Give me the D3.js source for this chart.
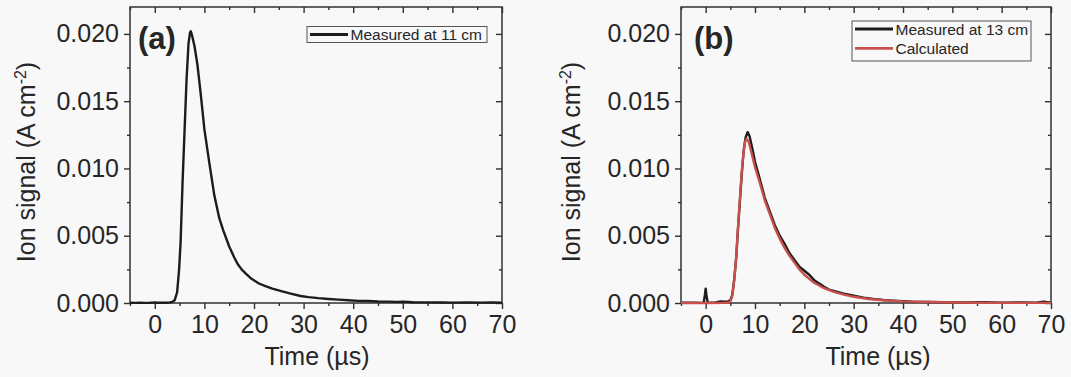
<!DOCTYPE html>
<html>
<head>
<meta charset="utf-8">
<script src="https://cdn.jsdelivr.net/npm/d3@7"></script>
<style>
  html, body { margin: 0; padding: 0; background: #f8f8f8; }
  svg { display: block; }
  text { font-family: "Liberation Sans", Arial, sans-serif; fill: #262626; }
</style>
</head>
<body>
<svg id="chart" width="1071" height="377"></svg>
<script>
// Ion signal traces (time in µs, signal in A cm^-2)
const timeA  = [-5, -4, -3, -2, -1, -0.5, 0, 0.5, 1, 2, 3, 3.5, 4, 4.5, 4.9, 5.2, 5.6, 6.0, 6.4, 6.8, 7.1, 7.25, 7.5, 8.0, 8.6, 9.3, 10, 11, 12, 13, 13.8, 15, 16, 16.7, 17.5, 18.3, 19.5, 21, 22.3, 23.7, 25.5, 27.4, 29.4, 31, 33, 35, 37, 39, 41, 43, 45, 47, 49, 50, 52, 55, 58, 60, 63, 66, 68, 70];
const signalA = [0.00002, 0.00001, 0.00002, 0.00001, 0.00002, 0.00003, 0.00005, 0.00002, 0.00003, 0.00002, 0.00004, 0.00008, 0.0002, 0.0008, 0.0025, 0.0045, 0.0090, 0.0128, 0.0166, 0.0193, 0.0201, 0.0202, 0.0199, 0.0191, 0.0177, 0.0154, 0.0129, 0.0104, 0.0080, 0.0063, 0.0054, 0.0042, 0.0034, 0.0029, 0.0025, 0.0022, 0.0018, 0.00145, 0.00125, 0.00107, 0.00088, 0.00070, 0.00052, 0.00044, 0.00036, 0.00030, 0.00025, 0.00020, 0.00016, 0.00015, 0.00011, 0.00010, 0.00008, 0.00010, 0.00006, 0.00005, 0.00004, 0.00003, 0.00004, 0.00003, 0.00004, 0.00003];

const timeB = [-5, -4, -3, -2, -1, -0.4, -0.15, 0, 0.15, 0.4, 1, 2, 3, 4, 4.5, 5.0, 5.4, 5.8, 6.2, 6.5, 6.85, 7.3, 7.7, 8.1, 8.5, 8.9, 9.5, 10, 10.9, 12, 12.9, 14, 15, 16, 17, 18, 19, 20, 21, 22, 23, 24, 25, 26.5, 28, 30, 32, 34, 36, 38, 40, 42, 45, 48, 50, 53, 56, 60, 64, 67, 68.5, 70];
const measuredB = [0.00002, 0.00003, 0.00003, 0.00002, 0.00001, 0.00003, 0.0006, 0.00107, 0.0006, 0.00004, 0.00002, 0.00005, 0.00012, 0.0001, 0.00012, 0.0002, 0.0006, 0.0018, 0.0034, 0.0052, 0.0071, 0.0095, 0.0113, 0.0123, 0.0127, 0.0124, 0.0114, 0.0105, 0.0093, 0.0078, 0.0069, 0.0058, 0.0050, 0.0044, 0.0037, 0.0032, 0.0027, 0.0024, 0.0021, 0.0017, 0.00145, 0.0012, 0.0010, 0.00085, 0.0007, 0.00055, 0.0004, 0.0003, 0.00022, 0.00018, 0.00014, 0.0001, 0.00008, 0.00006, 0.00005, 0.00004, 0.00006, 0.00003, 0.00004, 0.00003, 0.0001, 0.00003];

const timeCalc = [-5, 0, 4, 4.5, 5.0, 5.4, 5.8, 6.2, 6.5, 6.85, 7.3, 7.7, 8.0, 8.3, 8.7, 9.2, 10, 11, 12, 13, 14, 15, 16, 17, 18, 19, 20, 22, 24, 26, 28, 30, 33, 36, 40, 45, 50, 55, 60, 70];
const calculatedB = [0, 0, 0.00001, 0.00002, 0.0001, 0.0005, 0.0017, 0.0035, 0.0053, 0.0073, 0.0097, 0.0113, 0.0120, 0.0122, 0.0120, 0.0113, 0.0101, 0.0089, 0.0076, 0.0066, 0.0056, 0.0048, 0.0041, 0.0035, 0.0030, 0.0025, 0.0021, 0.0015, 0.0011, 0.00082, 0.00062, 0.00046, 0.0003, 0.0002, 0.00012, 0.00007, 0.00004, 0.00002, 0.00001, 0.00001];

const xMajorTicks = [0, 10, 20, 30, 40, 50, 60, 70];
const xMinorTicks = [-5, 5, 15, 25, 35, 45, 55, 65];
const yMajorTicks = [0, 0.005, 0.010, 0.015, 0.020];
const yMinorTicks = [0.0025, 0.0075, 0.0125, 0.0175];

const svg = d3.select("#chart");
const plotTop = 7, plotBottom = 303;
const fmtY = d3.format(".3f");
const FONT = "'Liberation Sans', Arial, sans-serif";

function panel(cfg) {
  const x = d3.scaleLinear().domain([-5, 70]).range([cfg.left, cfg.right]);
  const y = d3.scaleLinear().domain([0, 0.022]).range([plotBottom, plotTop]);
  const g = svg.append("g");

  // outward ticks on bottom/left, inward on top/right
  const axes = [
    [d3.axisBottom(x).tickValues(xMajorTicks).tickSize(6).tickPadding(6).tickFormat(d3.format("d")), `translate(0,${plotBottom})`, true],
    [d3.axisBottom(x).tickValues(xMinorTicks).tickSize(3).tickFormat(""), `translate(0,${plotBottom})`, false],
    [d3.axisLeft(y).tickValues(yMajorTicks).tickSize(6).tickPadding(5).tickFormat(fmtY), `translate(${cfg.left},0)`, true],
    [d3.axisLeft(y).tickValues(yMinorTicks).tickSize(3).tickFormat(""), `translate(${cfg.left},0)`, false],
    [d3.axisTop(x).tickValues(xMajorTicks).tickSize(-6).tickFormat(""), `translate(0,${plotTop})`, false],
    [d3.axisTop(x).tickValues(xMinorTicks).tickSize(-3).tickFormat(""), `translate(0,${plotTop})`, false],
    [d3.axisRight(y).tickValues(yMajorTicks).tickSize(-6).tickFormat(""), `translate(${cfg.right},0)`, false],
    [d3.axisRight(y).tickValues(yMinorTicks).tickSize(-3).tickFormat(""), `translate(${cfg.right},0)`, false]
  ];
  axes.forEach(([ax, tr, labels]) => {
    const a = g.append("g").attr("transform", tr).call(ax);
    a.select(".domain").remove();
    a.selectAll("line").attr("stroke", "#303030").attr("stroke-width", 1.4);
    if (labels) a.selectAll("text").style("font-size", "25px").attr("fill", "#262626")
      .style("font-family", FONT);
  });

  // frame
  g.append("rect")
    .attr("x", cfg.left).attr("y", plotTop)
    .attr("width", cfg.right - cfg.left).attr("height", plotBottom - plotTop)
    .attr("fill", "none").attr("stroke", "#303030").attr("stroke-width", 1.5);

  // traces
  const traces = g.append("g");
  cfg.series.forEach(s => {
    const pts = s.t.map((t, i) => [t, s.v[i]]);
    traces.append("path")
      .attr("d", d3.line().x(d => x(d[0])).y(d => y(d[1]))(pts))
      .attr("fill", "none").attr("stroke", s.color)
      .attr("stroke-width", 2.4).attr("stroke-linejoin", "round");
  });

  // panel label
  g.append("text").attr("x", cfg.labelX).attr("y", 49)
    .style("font-size", "31px").style("font-weight", "bold").text(cfg.label);

  // axis titles
  const xt = g.append("text").attr("x", cfg.xTitleX).attr("y", 365)
    .attr("text-anchor", "middle").style("font-size", "25px");
  xt.append("tspan").text("Time (");
  xt.append("tspan").text("µ");
  xt.append("tspan").text("s)");

  const yt = g.append("text")
    .attr("transform", `translate(${cfg.yTitleX},162) rotate(-90)`)
    .attr("text-anchor", "middle").style("font-size", "25px");
  yt.append("tspan").text("Ion signal (A cm");
  yt.append("tspan").attr("dy", "-0.55em").style("font-size", "16px").text("-2");
  yt.append("tspan").attr("dy", "0.35em").text(")");

  // legend
  const lg = g.append("g");
  lg.append("rect")
    .attr("x", cfg.legend.x).attr("y", cfg.legend.y)
    .attr("width", cfg.legend.w).attr("height", cfg.legend.h)
    .attr("fill", "none").attr("stroke", "#555").attr("stroke-width", 1);
  cfg.series.forEach((s, i) => {
    const cy = cfg.legend.y + 8 + i * 19.4;
    lg.append("line")
      .attr("x1", cfg.legend.x + 3).attr("x2", cfg.legend.x + 41)
      .attr("y1", cy).attr("y2", cy)
      .attr("stroke", s.color).attr("stroke-width", 2.8);
    lg.append("text")
      .attr("x", cfg.legend.x + 43.5).attr("y", cy)
      .attr("dy", "0.36em").style("font-size", "15.5px").text(s.name);
  });
}

panel({
  left: 130, right: 502, label: "(a)", labelX: 138, xTitleX: 317, yTitleX: 35,
  legend: { x: 307, y: 26.5, w: 180, h: 16 },
  series: [{ t: timeA, v: signalA, color: "#1c1c1c", name: "Measured at 11 cm" }]
});

panel({
  left: 681, right: 1051, label: "(b)", labelX: 694, xTitleX: 878, yTitleX: 580,
  legend: { x: 852, y: 21, w: 179, h: 40 },
  series: [
    { t: timeB, v: measuredB, color: "#1c1c1c", name: "Measured at 13 cm" },
    { t: timeCalc, v: calculatedB, color: "#c9504c", name: "Calculated" }
  ]
});
</script>
</body>
</html>
